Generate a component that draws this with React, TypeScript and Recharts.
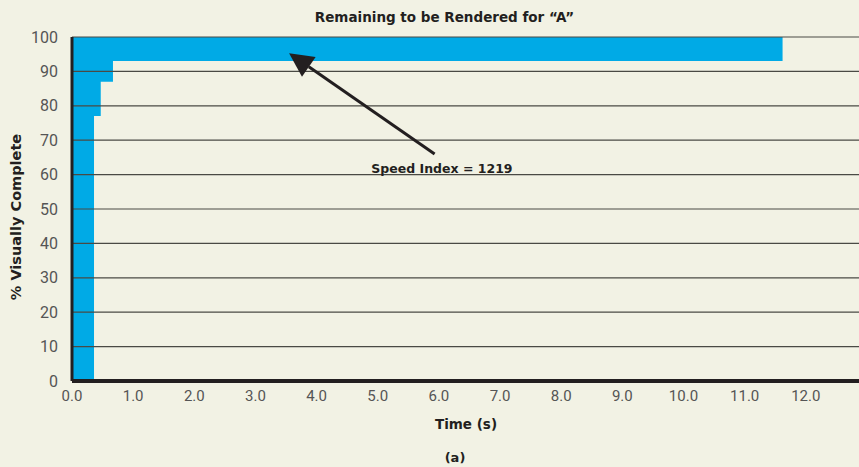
import { Area, AreaChart, ReferenceLine, XAxis, YAxis } from "recharts"

const times = [0, 0.36, 0.47, 0.67, 11.62]
const visuallyComplete = [0, 77, 87, 93, 100]
const xTicks = [0, 1, 2, 3, 4, 5, 6, 7, 8, 9, 10, 11, 12]
const yTicks = [0, 10, 20, 30, 40, 50, 60, 70, 80, 90, 100]
const arrowFrom = { x: 5.93, y: 66 }
const arrowTo = { x: 3.55, y: 95.3 }
const speedIndexLabel = { x: 6.05, y: 61.8, text: "Speed Index = 1219" }

const data = times.map((t, i) => ({ t, range: [visuallyComplete[i], 100] }))

const bg = "#f2f2e4"
const tickFont = "Roboto, 'Liberation Sans', sans-serif"
const labelFont = "'DejaVu Sans', Roboto, sans-serif"

function Arrow(props: any) {
  const { x1, y1, x2, y2 } = props
  const dx = x2 - x1
  const dy = y2 - y1
  const len = Math.sqrt(dx * dx + dy * dy)
  const ux = dx / len
  const uy = dy / len
  const head = 24
  const half = 12
  const bx = x2 - ux * head
  const by = y2 - uy * head
  const pts = `${x2},${y2} ${bx - uy * half},${by + ux * half} ${bx + uy * half},${by - ux * half}`
  return (
    <g>
      <line x1={x1} y1={y1} x2={bx} y2={by} stroke="#231f20" strokeWidth={3} />
      <polygon points={pts} fill="#231f20" />
    </g>
  )
}

function SpeedLabel(props: any) {
  const { cx, cy } = props
  return (
    <text x={cx} y={cy} textAnchor="middle" dominantBaseline="central" fontFamily={labelFont} fontWeight={700} fontSize={12.5} fill="#231f20">
      {speedIndexLabel.text}
    </text>
  )
}

export default function App() {
  return (
    <div style={{ position: "absolute", left: 0, top: 0, width: 859, height: 467, background: bg, fontFamily: labelFont }}>
      <div style={{ position: "absolute", left: 0, width: 889, top: 9, textAlign: "center", fontWeight: 700, fontSize: 13.5, color: "#231f20" }}>
        Remaining to be Rendered for “A”
      </div>
      <div style={{ position: "absolute", left: 0, width: 932, top: 416, textAlign: "center", fontWeight: 700, fontSize: 13.5, color: "#231f20" }}>
        Time (s)
      </div>
      <div style={{ position: "absolute", left: 0, width: 910, top: 450, textAlign: "center", fontWeight: 700, fontSize: 13, color: "#231f20" }}>
        (a)
      </div>
      <div
        style={{
          position: "absolute",
          left: 16,
          top: 217,
          transform: "translate(-50%, -50%) rotate(-90deg)",
          whiteSpace: "nowrap",
          fontWeight: 700,
          fontSize: 14.5,
          color: "#231f20",
        }}
      >
        % Visually Complete
      </div>
      <AreaChart
        width={859}
        height={467}
        data={data}
        margin={{ top: 37, right: 0, left: 0, bottom: 0 }}
        style={{ position: "absolute", left: 0, top: 0 }}
      >
        <XAxis
          dataKey="t"
          type="number"
          domain={[0, 12.87]}
          ticks={xTicks}
          tickFormatter={(v: number) => v.toFixed(1)}
          axisLine={false}
          tickLine={false}
          height={86}
          tick={{ fill: "#555", fontSize: 15, fontFamily: tickFont }}
          tickMargin={3}
          interval={0}
          allowDataOverflow
        />
        <YAxis
          type="number"
          domain={[0, 100]}
          ticks={yTicks}
          axisLine={false}
          tickLine={false}
          width={72}
          tick={{ fill: "#555", fontSize: 16, fontFamily: tickFont }}
          tickMargin={8}
          interval={0}
        />
        <Area
          type="stepAfter"
          dataKey="range"
          stroke="none"
          fill="#00aae6"
          fillOpacity={1}
          isAnimationActive={false}
          dot={false}
          activeDot={false}
        />
        {yTicks
          .filter((v) => v > 0)
          .map((v) => (
            <ReferenceLine key={v} y={v} stroke="#4a4a44" strokeWidth={1.2} />
          ))}
        <ReferenceLine y={0} stroke="#231f20" strokeWidth={4} />
        <ReferenceLine x={0} stroke="#231f20" strokeWidth={3} />
        <ReferenceLine segment={[arrowFrom, arrowTo]} shape={Arrow} />
        <ReferenceLine
          segment={[
            { x: speedIndexLabel.x, y: speedIndexLabel.y },
            { x: speedIndexLabel.x, y: speedIndexLabel.y },
          ]}
          shape={(p: any) => <SpeedLabel cx={p.x1} cy={p.y1} />}
        />
      </AreaChart>
    </div>
  )
}
